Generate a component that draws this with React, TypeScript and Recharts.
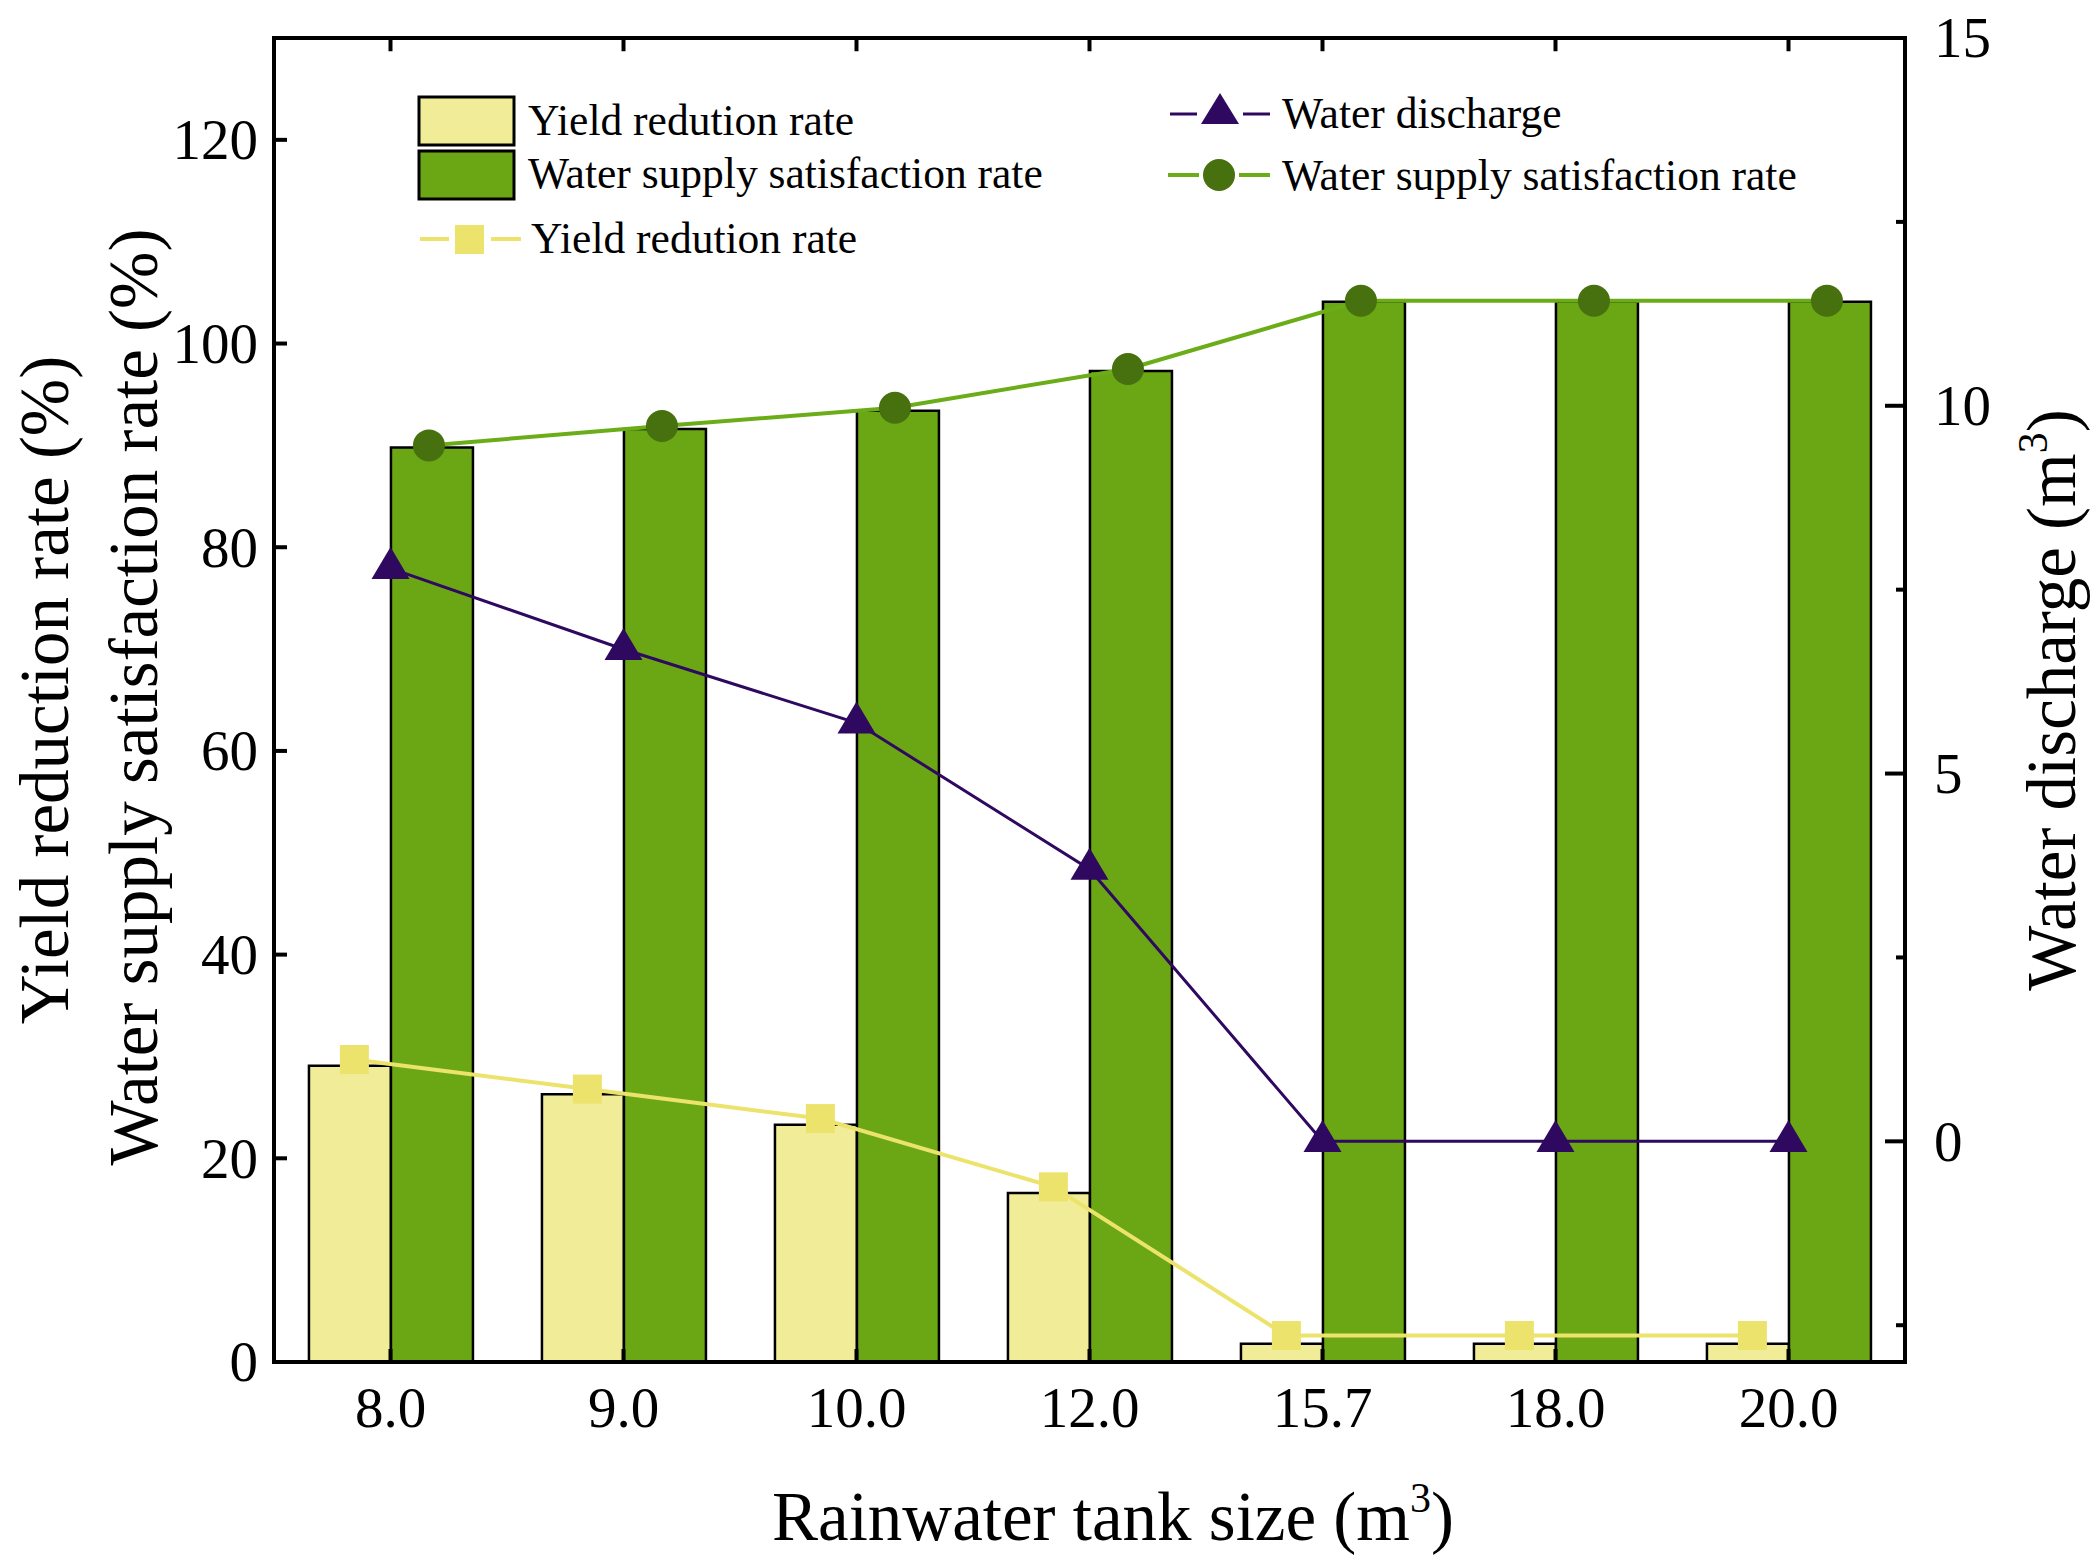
import React from "react";
import { ComposedChart, Bar, Line, XAxis, YAxis, ReferenceLine } from "recharts";

const categories = ["8.0", "9.0", "10.0", "12.0", "15.7", "18.0", "20.0"];
const yieldBarValues = [29.1, 26.3, 23.3, 16.6, 1.8, 1.8, 1.8];
const supplyBarValues = [89.8, 91.6, 93.4, 97.3, 104.1, 104.1, 104.1];
const yieldLineValues = [29.7, 26.8, 23.9, 17.2, 2.6, 2.6, 2.6];
const supplyLineValues = [90.0, 91.9, 93.7, 97.5, 104.2, 104.2, 104.2];
const dischargeValues = [7.79, 6.69, 5.69, 3.7, 0, 0, 0];

const leftTicks = [0, 20, 40, 60, 80, 100, 120];
const rightTicks = [-2.5, 0, 2.5, 5, 7.5, 10, 12.5, 15];
const LEFT_MAX = 130;

// lines sit on the middle of their bar, not the category centre
const YIELD_SHIFT = -0.155;
const SUPPLY_SHIFT = 0.165;

const data = categories.map((cat, i) => ({
  cat,
  yieldBar: yieldBarValues[i],
  supplyBar: supplyBarValues[i],
  yieldLine: yieldLineValues[i],
  supplyLine: supplyLineValues[i],
  discharge: dischargeValues[i],
  yx: i + YIELD_SHIFT,
  sx: i + SUPPLY_SHIFT,
}));

// plot box edges in px
const W = 2099;
const H = 1566;
const PLOT_LEFT = 274;
const PLOT_RIGHT = 1905;
const PLOT_TOP = 38;
const PLOT_BOTTOM = 1362;

const FONT = "'Liberation Serif', 'Times New Roman', serif";
const TICK_FS = 57;
const LEGEND_FS = 43.5;
const YELLOW_BAR = "#F0EC98";
const GREEN_BAR = "#6BA715";
const YELLOW_LINE = "#ECE36C";
const GREEN_LINE = "#6BAD18";
const GREEN_DOT = "#47700F";
const PURPLE = "#2F0860";

function LeftTick({ y, payload }: any) {
  const x = PLOT_LEFT;
  return (
    <g>
      <line x1={x} x2={x + 13} y1={y} y2={y} stroke="#000" strokeWidth={4} />
      <text x={x - 16} y={y} dy="0.34em" textAnchor="end" fontFamily={FONT} fontSize={TICK_FS} fill="#000">
        {payload.value}
      </text>
    </g>
  );
}

function RightTick({ y, payload }: any) {
  const x = PLOT_RIGHT;
  const major = payload.value % 5 === 0;
  return (
    <g>
      <line x1={x} x2={x - (major ? 20 : 9)} y1={y} y2={y} stroke="#000" strokeWidth={4} />
      {major && (
        <text x={x + 29} y={y} dy="0.34em" textAnchor="start" fontFamily={FONT} fontSize={TICK_FS} fill="#000">
          {payload.value}
        </text>
      )}
    </g>
  );
}

function BottomTick({ x, payload }: any) {
  const y = PLOT_BOTTOM;
  return (
    <g>
      <line x1={x} x2={x} y1={y} y2={y - 13} stroke="#000" strokeWidth={4} />
      <text x={x} y={y + 65} textAnchor="middle" fontFamily={FONT} fontSize={TICK_FS} fill="#000">
        {payload.value}
      </text>
    </g>
  );
}

function SquareDot({ cx, cy, index }: any) {
  return <rect key={`sq-${index}`} x={cx - 14.5} y={cy - 14.5} width={29} height={29} fill={YELLOW_LINE} />;
}

function CircleDot({ cx, cy, index }: any) {
  return <circle key={`ci-${index}`} cx={cx} cy={cy} r={16} fill={GREEN_DOT} />;
}

function TriangleDot({ cx, cy, index }: any) {
  const w = 38;
  const h = 32;
  const pts = `${cx},${cy - (2 * h) / 3} ${cx - w / 2},${cy + h / 3} ${cx + w / 2},${cy + h / 3}`;
  return <polygon key={`tr-${index}`} points={pts} fill={PURPLE} />;
}

function Overlay() {
  const t = { fontFamily: FONT, fill: "#000" } as const;
  return (
    <svg width={W} height={H} style={{ position: "absolute", left: 0, top: 0, pointerEvents: "none" }}>
      {/* legend, left block */}
      <rect x={419} y={97} width={95} height={48} fill={YELLOW_BAR} stroke="#000" strokeWidth={3} />
      <text x={528} y={135} fontSize={LEGEND_FS} {...t}>Yield redution rate</text>
      <rect x={419} y={151} width={95} height={48} fill={GREEN_BAR} stroke="#000" strokeWidth={3} />
      <text x={528} y={188} fontSize={LEGEND_FS} {...t}>Water supply satisfaction rate</text>
      <line x1={420} x2={449} y1={239} y2={239} stroke={YELLOW_LINE} strokeWidth={4} />
      <line x1={491} x2={521} y1={239} y2={239} stroke={YELLOW_LINE} strokeWidth={4} />
      <rect x={455} y={225} width={29} height={29} fill={YELLOW_LINE} />
      <text x={531} y={253} fontSize={LEGEND_FS} {...t}>Yield redution rate</text>

      {/* legend, right block */}
      <line x1={1170} x2={1197} y1={114} y2={114} stroke={PURPLE} strokeWidth={3} />
      <line x1={1243} x2={1270} y1={114} y2={114} stroke={PURPLE} strokeWidth={3} />
      <polygon points="1220,93 1201,124 1239,124" fill={PURPLE} />
      <text x={1282} y={128} fontSize={LEGEND_FS} {...t}>Water discharge</text>
      <line x1={1168} x2={1199} y1={175} y2={175} stroke={GREEN_LINE} strokeWidth={4} />
      <line x1={1239} x2={1270} y1={175} y2={175} stroke={GREEN_LINE} strokeWidth={4} />
      <circle cx={1219} cy={175} r={16} fill={GREEN_DOT} />
      <text x={1282} y={190} fontSize={LEGEND_FS} {...t}>Water supply satisfaction rate</text>

      {/* axis titles */}
      <text transform="translate(68,690) rotate(-90)" textAnchor="middle" fontSize={69} {...t}>
        Yield reduction rate (%)
      </text>
      <text transform="translate(157,697) rotate(-90)" textAnchor="middle" fontSize={69} {...t}>
        Water supply satisfaction rate (%)
      </text>
      <text transform="translate(2075,700) rotate(-90)" textAnchor="middle" fontSize={69} {...t}>
        Water discharge (m<tspan fontSize={42} dy={-28}>3</tspan>
        <tspan dy={28}>)</tspan>
      </text>
      <text x={772} y={1540} fontSize={69} {...t}>
        Rainwater tank size (m<tspan fontSize={42} dy={-28}>3</tspan>
        <tspan dy={28}>)</tspan>
      </text>
    </svg>
  );
}

export default function App() {
  const frame = { stroke: "#000", strokeWidth: 4, strokeLinecap: "square" as const };
  return (
    <div style={{ position: "absolute", left: 0, top: 0, width: W, height: H, background: "#fff" }}>
      <ComposedChart
        width={W}
        height={H}
        data={data}
        margin={{ top: PLOT_TOP, right: 0, bottom: 0, left: 0 }}
        barCategoryGap="15%"
        barGap={0}
      >
        <XAxis
          dataKey="cat"
          height={H - PLOT_BOTTOM}
          axisLine={frame}
          tickLine={false}
          tickSize={0}
          tickMargin={0}
          interval={0}
          tick={(p: any) => <BottomTick {...p} />}
        />
        <XAxis xAxisId="yx" dataKey="yx" type="number" domain={[-0.5, 6.5]} allowDataOverflow hide />
        <XAxis xAxisId="sx" dataKey="sx" type="number" domain={[-0.5, 6.5]} allowDataOverflow hide />
        <YAxis
          yAxisId="left"
          width={PLOT_LEFT}
          domain={[0, LEFT_MAX]}
          ticks={leftTicks}
          allowDataOverflow
          axisLine={frame}
          tickLine={false}
          tickSize={0}
          tickMargin={0}
          interval={0}
          tick={(p: any) => <LeftTick {...p} />}
        />
        <YAxis
          yAxisId="right"
          orientation="right"
          width={W - PLOT_RIGHT}
          domain={[-3, 15]}
          ticks={rightTicks}
          allowDataOverflow
          axisLine={frame}
          tickLine={false}
          tickSize={0}
          tickMargin={0}
          interval={0}
          tick={(p: any) => <RightTick {...p} />}
        />
        <Bar
          yAxisId="left"
          dataKey="yieldBar"
          fill={YELLOW_BAR}
          stroke="#000"
          strokeWidth={2.5}
          isAnimationActive={false}
        />
        <Bar
          yAxisId="left"
          dataKey="supplyBar"
          fill={GREEN_BAR}
          stroke="#000"
          strokeWidth={2.5}
          isAnimationActive={false}
        />
        <Line
          xAxisId="yx"
          yAxisId="left"
          dataKey="yieldLine"
          stroke={YELLOW_LINE}
          strokeWidth={4}
          dot={(p: any) => <SquareDot {...p} />}
          activeDot={false}
          isAnimationActive={false}
        />
        <Line
          yAxisId="right"
          dataKey="discharge"
          stroke={PURPLE}
          strokeWidth={3}
          dot={(p: any) => <TriangleDot {...p} />}
          activeDot={false}
          isAnimationActive={false}
        />
        <Line
          xAxisId="sx"
          yAxisId="left"
          dataKey="supplyLine"
          stroke={GREEN_LINE}
          strokeWidth={4}
          dot={(p: any) => <CircleDot {...p} />}
          activeDot={false}
          isAnimationActive={false}
        />
        {/* top edge of the frame with its inward ticks */}
        <ReferenceLine yAxisId="left" y={LEFT_MAX} stroke="#000" strokeWidth={4} strokeLinecap="square" />
        {categories.map((c) => (
          <ReferenceLine
            key={`top-${c}`}
            yAxisId="left"
            segment={[
              { x: c, y: LEFT_MAX },
              { x: c, y: LEFT_MAX - 1.3 },
            ]}
            stroke="#000"
            strokeWidth={4}
          />
        ))}
      </ComposedChart>
      <Overlay />
    </div>
  );
}
